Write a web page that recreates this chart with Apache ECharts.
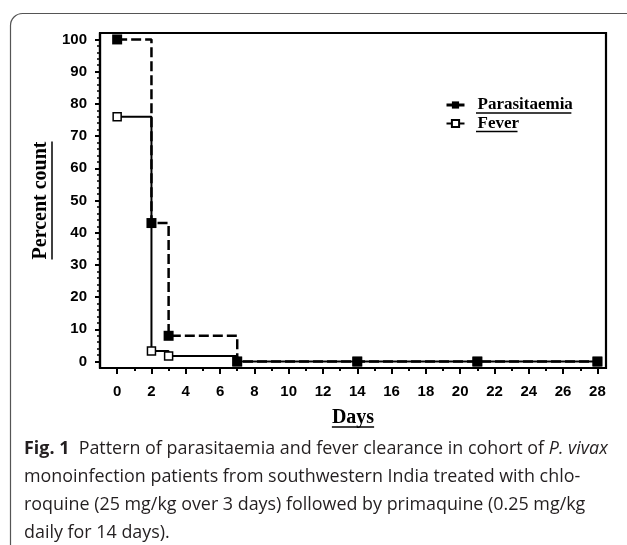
<!DOCTYPE html>
<html>
<head>
    <meta charset="utf-8">
    <script src="https://cdn.jsdelivr.net/npm/echarts@6/dist/echarts.min.js"></script>
    <style>
        body { margin: 0; background: #fff; }
    </style>
</head>
<body>
    <div id="main" style="width: 627px;height:545px;"></div>
    <script type="text/javascript">
        // data
        var days = [0, 2, 3, 7, 14, 21, 28];
        var parasitaemia = [100, 43, 8, 0, 0, 0, 0];
        var fever = [76, 3.3, 1.7, 0, 0, 0, 0];
        var xTickLabels = [0, 2, 4, 6, 8, 10, 12, 14, 16, 18, 20, 22, 24, 26, 28];
        var yTickLabels = [0, 10, 20, 30, 40, 50, 60, 70, 80, 90, 100];
        var seriesNames = ['Parasitaemia', 'Fever'];

        // minor tick positions (axis decoration only)
        var xMinor = [];
        for (var i = 1; i < 28; i += 2) xMinor.push(i);
        var yMinor = [];
        for (var j = 0; j <= 100; j += 2) yMinor.push(j);

        var serif = '"Liberation Serif", "Times New Roman", serif';
        var sans = '"Liberation Sans", Arial, sans-serif';
        var capFont = '"Open Sans", "Noto Sans", sans-serif';

        var ctx = document.createElement('canvas').getContext('2d');
        var measure = function (text, font) {
            ctx.font = font;
            return ctx.measureText(text).width;
        };

        // grid box
        var gLeft = 100, gTop = 33, gRight = 606, gBottom = 368;

        // caption font size fitted to the first line width
        var cap1a = 'Fig. 1', cap1b = '  Pattern of parasitaemia and fever clearance in cohort of ', cap1c = 'P. vivax';
        var w16 = measure(cap1a, 'bold 16px ' + capFont) + measure(cap1b, '16px ' + capFont) + measure(cap1c, 'italic 16px ' + capFont);
        var capSize = Math.round(16 * 584 / w16 * 10) / 10;

        var nameSize = 20;
        var nameFont = 'bold ' + nameSize + 'px ' + serif;
        var legFont = 'bold 17px ' + serif;
        var wPercent = measure('Percent count', nameFont);
        var wDays = measure('Days', nameFont);
        var legLeft = 445, legIconW = 18, legPad = 8;
        var legTextX = legLeft + legIconW + 5 + legPad;
        var legRow0 = 105, legRowStep = 18.5;

        var graphics = [
            {
                type: 'rect', silent: true,
                shape: { x: 10.5, y: 13.5, width: 660, height: 600, r: 12 },
                style: { fill: 'none', stroke: '#555', lineWidth: 1.2 }
            },
            {
                type: 'line', silent: true,
                shape: { x1: 52, y1: (gTop + gBottom) / 2 - wPercent / 2, x2: 52, y2: (gTop + gBottom) / 2 + wPercent / 2 },
                style: { stroke: '#000', lineWidth: 1.5 }
            },
            {
                type: 'line', silent: true,
                shape: { x1: (gLeft + gRight) / 2 - wDays / 2, y1: 427, x2: (gLeft + gRight) / 2 + wDays / 2, y2: 427 },
                style: { stroke: '#000', lineWidth: 1.5 }
            }
        ];
        seriesNames.forEach(function (n, k) {
            var w = measure(n, legFont);
            var y = legRow0 + k * legRowStep + 8;
            graphics.push({
                type: 'line', silent: true,
                shape: { x1: legTextX, y1: y, x2: legTextX + w, y2: y },
                style: { stroke: '#000', lineWidth: 1.5 }
            });
        });

        var myChart = echarts.init(document.getElementById('main'));

        var option = {
            animation: false,
            backgroundColor: '#fff',
            title: {
                left: 24,
                top: 435,
                padding: 0,
                text: '{b|' + cap1a + '}' + cap1b + '{i|' + cap1c + '}\n' +
                    'monoinfection patients from southwestern India treated with chlo-\n' +
                    'roquine (25 mg/kg over 3 days) followed by primaquine (0.25 mg/kg\n' +
                    'daily for 14 days).',
                textStyle: {
                    fontFamily: capFont, fontSize: capSize, fontWeight: 'normal', color: '#231f20', lineHeight: 28,
                    rich: {
                        b: { fontFamily: capFont, fontSize: capSize, fontWeight: 'bold', color: '#231f20', lineHeight: 28 },
                        i: { fontFamily: capFont, fontSize: capSize, fontStyle: 'italic', color: '#231f20', lineHeight: 28 }
                    }
                }
            },
            grid: {
                left: gLeft,
                top: gTop,
                right: 627 - gRight,
                bottom: 545 - gBottom,
                show: true,
                borderColor: '#000',
                borderWidth: 2.2,
                backgroundColor: 'transparent'
            },
            legend: {
                data: [
                    { name: seriesNames[0], lineStyle: { type: 'solid', width: 3 } },
                    { name: seriesNames[1], lineStyle: { type: 'solid', width: 2 } }
                ],
                orient: 'vertical',
                left: legLeft,
                top: legRow0 - 9,
                padding: 0,
                itemWidth: legIconW,
                itemHeight: 9,
                itemGap: 0.5,
                textStyle: { fontFamily: serif, fontWeight: 'bold', fontSize: 17, color: '#000', lineHeight: 18, padding: [0, 0, 0, legPad] }
            },
            xAxis: [
                {
                    type: 'value', min: -1, max: 28.5,
                    name: 'Days', nameLocation: 'middle', nameGap: 40,
                    nameTextStyle: { fontFamily: serif, fontWeight: 'bold', fontSize: nameSize, color: '#000' },
                    axisLine: { onZero: false, lineStyle: { color: '#000', width: 2.2 } },
                    axisTick: { customValues: xTickLabels, length: 6, lineStyle: { color: '#000', width: 2 } },
                    axisLabel: { customValues: xTickLabels, margin: 16, fontFamily: sans, fontWeight: 'bold', fontSize: 15, color: '#000' },
                    splitLine: { show: false }
                },
                {
                    type: 'value', min: -1, max: 28.5, position: 'bottom',
                    axisLine: { show: false, onZero: false },
                    axisTick: { customValues: xMinor, length: 3, lineStyle: { color: '#000', width: 2 } },
                    axisLabel: { show: false },
                    splitLine: { show: false }
                }
            ],
            yAxis: [
                {
                    type: 'value', min: -2, max: 102,
                    name: 'Percent count', nameLocation: 'middle', nameGap: 47,
                    nameTextStyle: { fontFamily: serif, fontWeight: 'bold', fontSize: nameSize, color: '#000' },
                    axisLine: { show: true, onZero: false, lineStyle: { color: '#000', width: 2.2 } },
                    axisTick: { show: true, customValues: yTickLabels, length: 5, lineStyle: { color: '#000', width: 2 } },
                    axisLabel: { customValues: yTickLabels, margin: 13, fontFamily: sans, fontWeight: 'bold', fontSize: 15, color: '#000' },
                    splitLine: { show: false }
                },
                {
                    type: 'value', min: -2, max: 102, position: 'left',
                    axisLine: { show: false, onZero: false },
                    axisTick: { show: true, customValues: yMinor, length: 3, lineStyle: { color: '#000', width: 1.5 } },
                    axisLabel: { show: false },
                    splitLine: { show: false }
                }
            ],
            graphic: graphics,
            series: [
                {
                    name: 'Fever',
                    type: 'line',
                    step: 'end',
                    data: days.map(function (d, k) { return [d, fever[k]]; }),
                    symbol: 'rect',
                    symbolSize: 8,
                    itemStyle: { color: '#fff', borderColor: '#000', borderWidth: 1.5 },
                    lineStyle: { color: '#000', width: 2 },
                    z: 2
                },
                {
                    name: 'Parasitaemia',
                    type: 'line',
                    step: 'end',
                    data: days.map(function (d, k) { return [d, parasitaemia[k]]; }),
                    symbol: 'rect',
                    symbolSize: 10,
                    itemStyle: { color: '#000', borderColor: '#000', borderWidth: 0 },
                    lineStyle: { color: '#000', width: 2.5, type: [10, 4] },
                    z: 3
                }
            ]
        };
        myChart.setOption(option);
    </script>
</body>
</html>
